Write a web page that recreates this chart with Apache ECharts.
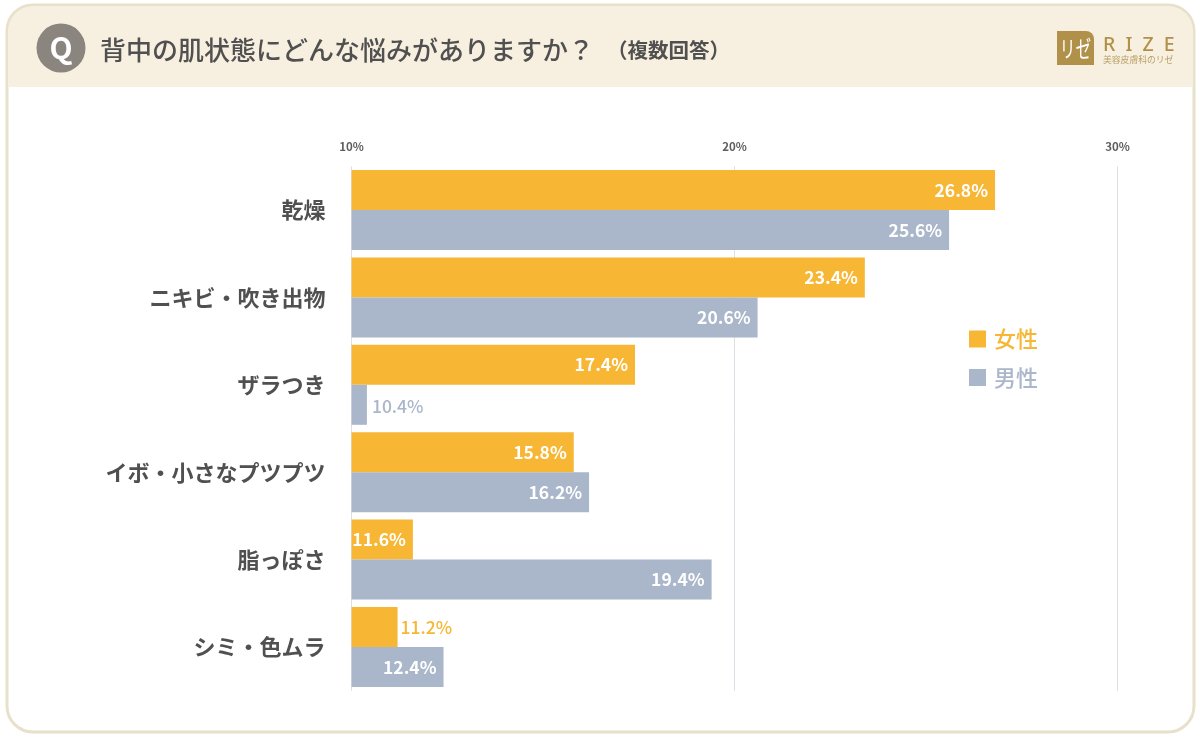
<!DOCTYPE html>
<html>
<head>
<meta charset="utf-8">
<script src="https://cdn.jsdelivr.net/npm/echarts@6/dist/echarts.min.js"></script>
<style>html,body{margin:0;padding:0;background:#fff}#c{width:1200px;height:738px}</style>
</head>
<body>
<div id="c"></div>
<script>
const categories = ['乾燥','ニキビ・吹き出物','ザラつき','イボ・小さなプツプツ','脂っぽさ','シミ・色ムラ'];
const female = [26.8,23.4,17.4,15.8,11.6,11.2];
const male = [25.6,20.6,10.4,16.2,19.4,12.4];
const outsideFemale = [11.2];
const outsideMale = [10.4];
const FONT = '"Noto Sans CJK JP","Noto Sans",sans-serif';
const ORANGE = '#f7b633', BLUE = '#aab6c9', TEXT = '#505050';

function seriesData(values, outside, color, distance, offsetY) {
  return values.map(v => outside.includes(v)
    ? {value: v, label: {position: 'right', distance: distance, offset: [0, offsetY], color: color, fontWeight: 500}}
    : {value: v});
}

const chart = echarts.init(document.getElementById('c'), null, {renderer: 'canvas'});
const barLabel = {
  show: true, position: 'insideRight', distance: 7, color: '#fff',
  fontFamily: FONT, fontSize: 17.5, fontWeight: 700,
  formatter: p => p.value.toFixed(1) + '%'
};
chart.setOption({
  animation: false,
  backgroundColor: '#fff',
  textStyle: {fontFamily: FONT},
  grid: {left: 351.6, top: 166.3, width: 766, height: 524.4, containLabel: false},
  xAxis: {
    type: 'value', position: 'top', min: 10, max: 30, interval: 10,
    axisLine: {show: false}, axisTick: {show: false},
    axisLabel: {formatter: '{value}%', color: '#5e5e5e', fontFamily: FONT, fontSize: 11.5, fontWeight: 700, margin: 14},
    splitLine: {show: true, lineStyle: {color: '#dcdfe3', width: 1}}
  },
  yAxis: {
    type: 'category', inverse: true, data: categories,
    axisLine: {show: false}, axisTick: {show: false},
    axisLabel: {color: TEXT, fontFamily: FONT, fontSize: 22, fontWeight: 700, margin: 26, padding: [0, 0, 3, 0]}
  },
  legend: {
    orient: 'vertical', left: 969, top: 328, padding: 0, itemWidth: 17, itemHeight: 17, itemGap: 16.5,
    icon: 'rect', selectedMode: false,
    data: [
      {name: '女性', textStyle: {color: ORANGE}},
      {name: '男性', textStyle: {color: BLUE}}
    ],
    textStyle: {fontFamily: FONT, fontSize: 22, fontWeight: 500, padding: [0, 0, 0, 3]}
  },
  series: [
    {name: '女性', type: 'bar', barWidth: 40, barGap: 0, itemStyle: {color: ORANGE}, label: barLabel,
     data: seriesData(female, outsideFemale, ORANGE, 3, 0)},
    {name: '男性', type: 'bar', barWidth: 40, barGap: 0, itemStyle: {color: BLUE}, label: barLabel,
     data: seriesData(male, outsideMale, BLUE, 5, 2)}
  ],
  graphic: [
    {type: 'rect', z: -10, shape: {x: 7, y: 5, width: 1187, height: 727, r: 26},
     style: {fill: '#fff', stroke: '#e7e0ca', lineWidth: 3}},
    {type: 'rect', z: -9, shape: {x: 8, y: 6, width: 1185, height: 81, r: [25, 25, 0, 0]},
     style: {fill: '#f7efdf'}},
    {type: 'circle', shape: {cx: 61, cy: 48, r: 24.5}, style: {fill: '#8b8580'}},
    {type: 'text', style: {x: 61, y: 48, text: 'Q', fill: '#fff', font: '700 30px "Noto Sans CJK JP"', align: 'center', verticalAlign: 'middle'}},
    {type: 'text', style: {x: 100, y: 50, text: '背中の肌状態にどんな悩みがありますか？', fill: TEXT, font: '500 26px "Noto Sans CJK JP"', verticalAlign: 'middle'}},
    {type: 'text', style: {x: 607, y: 50, text: '（複数回答）', fill: TEXT, font: '700 20.5px "Noto Sans CJK JP"', verticalAlign: 'middle'}},
    {type: 'rect', shape: {x: 1057, y: 31, width: 37, height: 34, r: [0, 8, 0, 0]}, style: {fill: '#b1914a'}},
    {type: 'text', x: 1075.5, y: 48, scaleX: 0.68, style: {x: 0, y: 0, text: 'リゼ', fill: '#fff', font: '400 23px "Noto Sans CJK JP"', align: 'center', verticalAlign: 'middle'}},
    {type: 'text', style: {x: 1103, y: 45, text: 'R  I  Z  E', fill: '#b1914a', font: '500 19.5px "Noto Sans"', verticalAlign: 'middle'}},
    {type: 'text', style: {x: 1103, y: 60, text: '美容皮膚科のリゼ', fill: '#b9a06a', font: '400 8.8px "Noto Sans CJK JP"', verticalAlign: 'middle'}}
  ]
});
</script>
</body>
</html>
